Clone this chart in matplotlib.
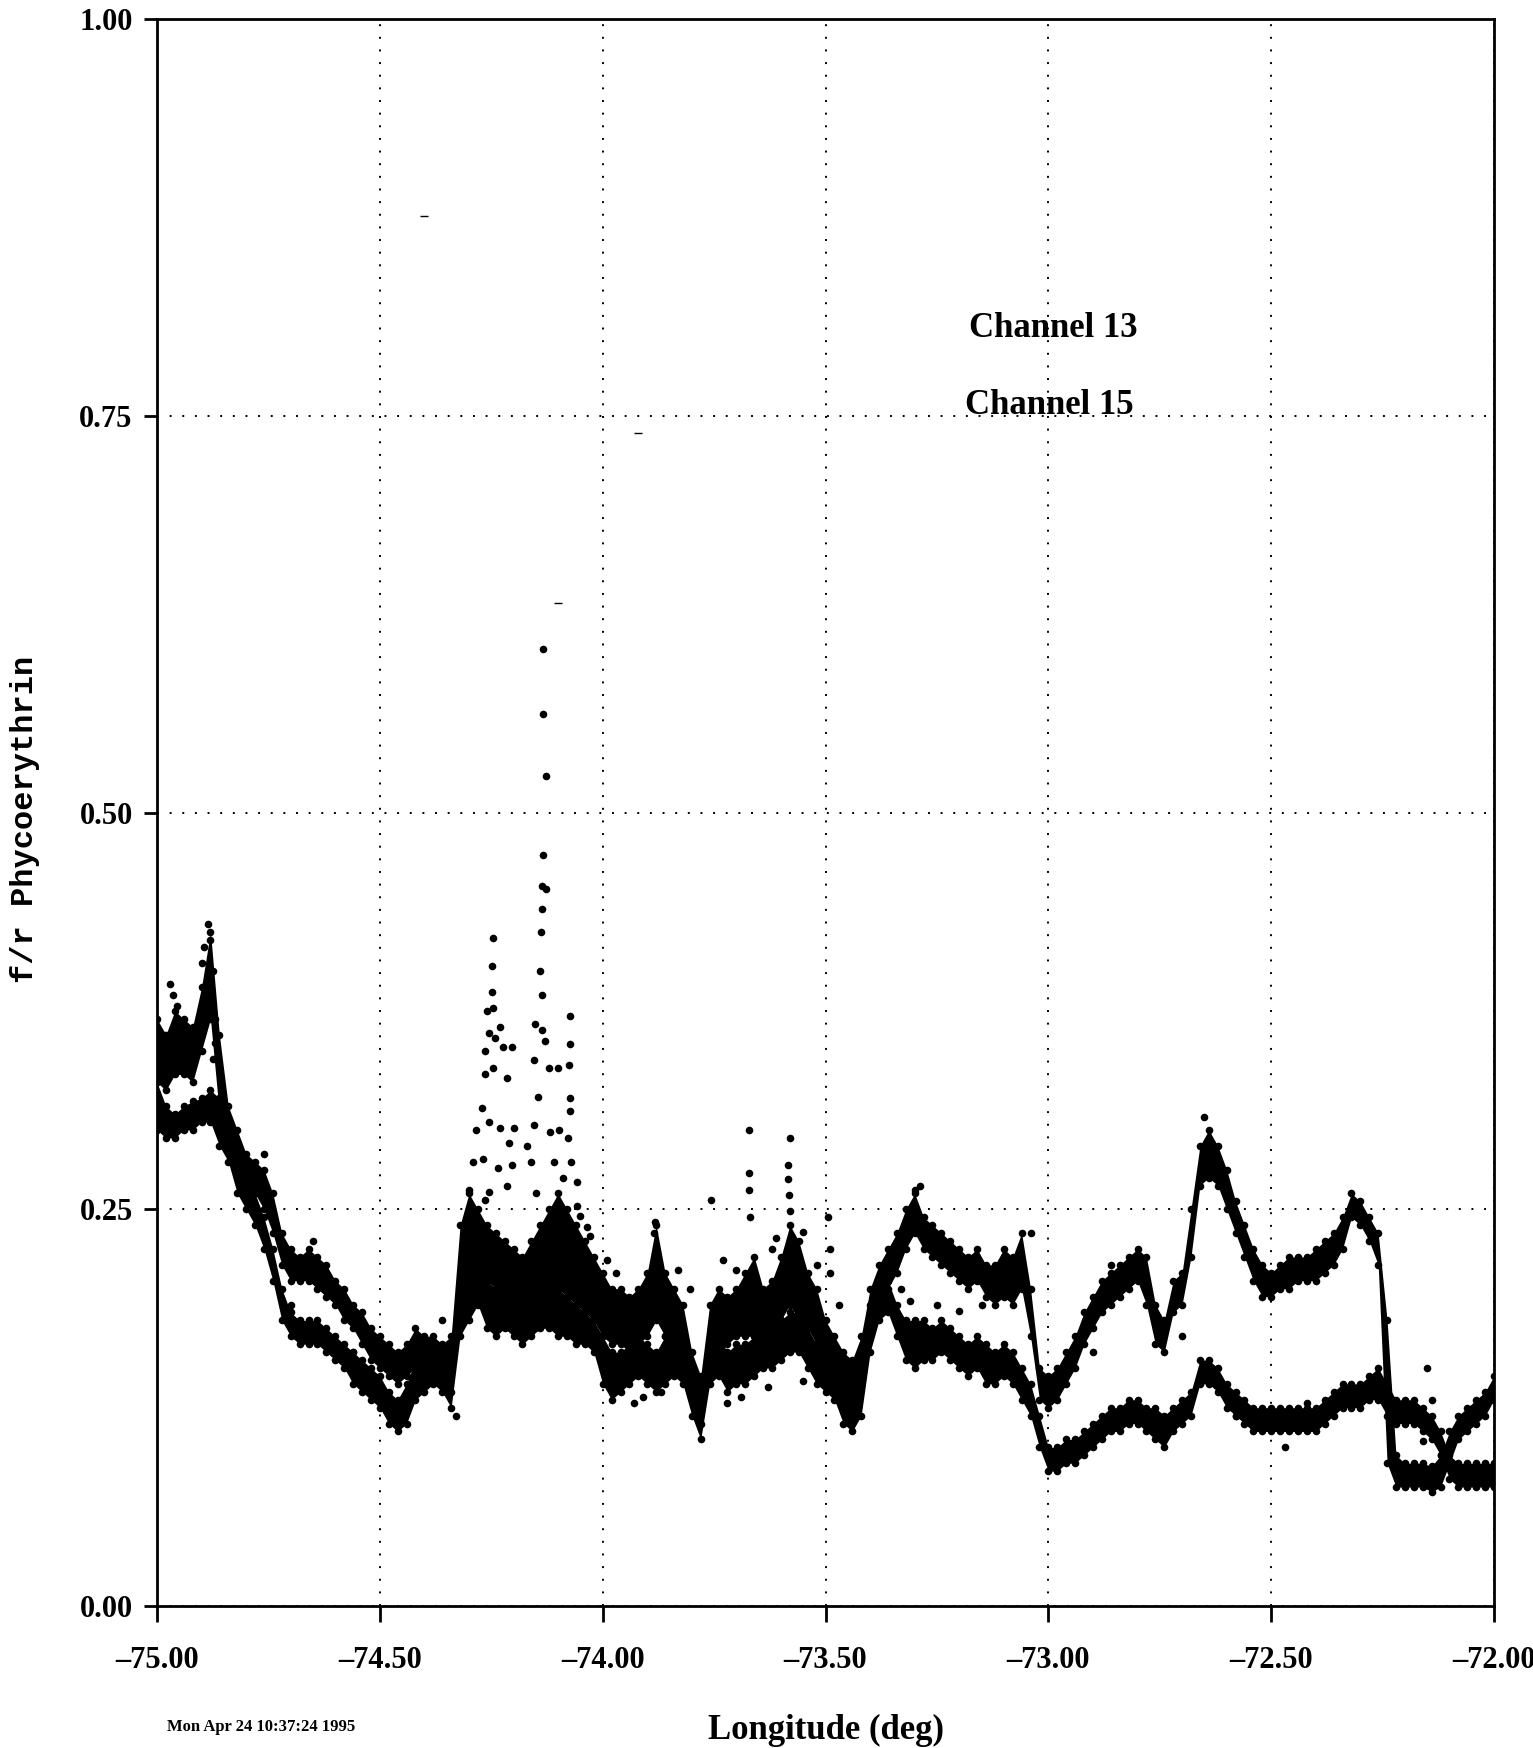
import matplotlib
matplotlib.use("Agg")
import matplotlib.pyplot as plt
import numpy as np
from matplotlib.ticker import FuncFormatter

# sample longitudes, every 0.02 deg along the track
lon = np.linspace(-75.0, -72.0, 151)

# channel 13 envelope (lower / upper edge of the point cloud)
ch13_lo = [
    0.330, 0.325, 0.335, 0.335, 0.330, 0.350, 0.370, 0.310, 0.290, 0.275,
    0.265, 0.260, 0.250, 0.235, 0.215, 0.205, 0.205, 0.205, 0.200, 0.195,
    0.190, 0.180, 0.175, 0.165, 0.155, 0.150, 0.145, 0.140, 0.145, 0.150,
    0.145, 0.150, 0.140, 0.135, 0.180, 0.210, 0.210, 0.205, 0.200, 0.195,
    0.190, 0.185, 0.190, 0.200, 0.200, 0.200, 0.195, 0.190, 0.185, 0.180,
    0.170, 0.165, 0.165, 0.160, 0.165, 0.170, 0.180, 0.170, 0.165, 0.155,
    0.130, 0.115, 0.150, 0.160, 0.165, 0.170, 0.170, 0.170, 0.165, 0.170,
    0.180, 0.190, 0.180, 0.175, 0.165, 0.150, 0.140, 0.130, 0.130, 0.140,
    0.170, 0.190, 0.200, 0.210, 0.225, 0.235, 0.225, 0.220, 0.215, 0.210,
    0.205, 0.200, 0.205, 0.195, 0.190, 0.195, 0.190, 0.200, 0.170, 0.130,
    0.125, 0.130, 0.140, 0.150, 0.165, 0.175, 0.185, 0.190, 0.195, 0.200,
    0.205, 0.190, 0.165, 0.160, 0.185, 0.190, 0.220, 0.265, 0.270, 0.265,
    0.250, 0.235, 0.220, 0.205, 0.195, 0.195, 0.200, 0.200, 0.205, 0.205,
    0.205, 0.210, 0.215, 0.225, 0.245, 0.240, 0.230, 0.215, 0.090, 0.075,
    0.075, 0.075, 0.075, 0.072, 0.075, 0.090, 0.105, 0.110, 0.115, 0.120,
    0.130,
]
ch13_hi = [
    0.370, 0.360, 0.375, 0.370, 0.365, 0.390, 0.425, 0.360, 0.315, 0.300,
    0.285, 0.280, 0.275, 0.260, 0.235, 0.225, 0.220, 0.225, 0.220, 0.215,
    0.205, 0.200, 0.190, 0.185, 0.175, 0.170, 0.165, 0.160, 0.165, 0.175,
    0.170, 0.170, 0.165, 0.170, 0.240, 0.260, 0.250, 0.240, 0.235, 0.230,
    0.225, 0.220, 0.230, 0.240, 0.250, 0.260, 0.250, 0.240, 0.230, 0.220,
    0.210, 0.200, 0.200, 0.195, 0.200, 0.210, 0.240, 0.210, 0.200, 0.190,
    0.160, 0.145, 0.190, 0.200, 0.195, 0.200, 0.210, 0.220, 0.200, 0.205,
    0.220, 0.240, 0.230, 0.210, 0.200, 0.180, 0.170, 0.160, 0.155, 0.170,
    0.200, 0.215, 0.225, 0.235, 0.250, 0.260, 0.245, 0.240, 0.235, 0.230,
    0.225, 0.220, 0.225, 0.215, 0.215, 0.225, 0.220, 0.235, 0.200, 0.150,
    0.145, 0.150, 0.160, 0.170, 0.185, 0.195, 0.205, 0.210, 0.215, 0.220,
    0.225, 0.220, 0.190, 0.180, 0.205, 0.210, 0.250, 0.290, 0.300, 0.290,
    0.275, 0.255, 0.240, 0.225, 0.215, 0.210, 0.215, 0.220, 0.220, 0.220,
    0.225, 0.230, 0.235, 0.245, 0.260, 0.255, 0.245, 0.235, 0.180, 0.095,
    0.090, 0.090, 0.090, 0.088, 0.095, 0.110, 0.120, 0.125, 0.130, 0.135,
    0.145,
]

# channel 15 envelope
ch15_lo = [
    0.300, 0.295, 0.295, 0.300, 0.300, 0.305, 0.305, 0.290, 0.280, 0.260,
    0.250, 0.240, 0.225, 0.205, 0.180, 0.170, 0.165, 0.165, 0.165, 0.160,
    0.155, 0.150, 0.140, 0.135, 0.130, 0.125, 0.115, 0.110, 0.115, 0.130,
    0.135, 0.140, 0.135, 0.125, 0.170, 0.180, 0.190, 0.175, 0.170, 0.175,
    0.170, 0.165, 0.170, 0.175, 0.175, 0.170, 0.170, 0.165, 0.165, 0.160,
    0.140, 0.130, 0.135, 0.140, 0.145, 0.140, 0.135, 0.140, 0.145, 0.140,
    0.120, 0.105, 0.140, 0.145, 0.135, 0.140, 0.140, 0.145, 0.150, 0.150,
    0.155, 0.160, 0.160, 0.150, 0.140, 0.135, 0.130, 0.115, 0.110, 0.120,
    0.160, 0.180, 0.185, 0.170, 0.155, 0.150, 0.155, 0.155, 0.160, 0.155,
    0.150, 0.145, 0.150, 0.140, 0.140, 0.145, 0.140, 0.130, 0.120, 0.100,
    0.085, 0.085, 0.090, 0.090, 0.095, 0.100, 0.105, 0.110, 0.110, 0.115,
    0.115, 0.110, 0.105, 0.100, 0.110, 0.115, 0.120, 0.140, 0.140, 0.135,
    0.125, 0.120, 0.115, 0.110, 0.110, 0.110, 0.110, 0.110, 0.110, 0.110,
    0.110, 0.115, 0.120, 0.125, 0.125, 0.125, 0.130, 0.130, 0.120, 0.115,
    0.115, 0.115, 0.110, 0.105, 0.095, 0.080, 0.075, 0.075, 0.075, 0.075,
    0.075,
]
ch15_hi = [
    0.330, 0.315, 0.310, 0.315, 0.318, 0.320, 0.325, 0.320, 0.300, 0.280,
    0.270, 0.260, 0.245, 0.225, 0.200, 0.185, 0.180, 0.180, 0.180, 0.175,
    0.170, 0.165, 0.160, 0.155, 0.150, 0.145, 0.135, 0.130, 0.140, 0.155,
    0.160, 0.165, 0.155, 0.150, 0.200, 0.210, 0.220, 0.205, 0.200, 0.210,
    0.200, 0.190, 0.200, 0.210, 0.210, 0.200, 0.195, 0.190, 0.185, 0.180,
    0.170, 0.160, 0.160, 0.165, 0.170, 0.165, 0.160, 0.170, 0.175, 0.165,
    0.140, 0.125, 0.165, 0.170, 0.160, 0.165, 0.165, 0.170, 0.175, 0.180,
    0.180, 0.185, 0.185, 0.175, 0.165, 0.160, 0.155, 0.140, 0.135, 0.150,
    0.190, 0.200, 0.205, 0.190, 0.180, 0.180, 0.180, 0.175, 0.180, 0.175,
    0.170, 0.165, 0.170, 0.165, 0.160, 0.165, 0.160, 0.150, 0.140, 0.120,
    0.100, 0.100, 0.105, 0.105, 0.110, 0.115, 0.120, 0.125, 0.125, 0.130,
    0.130, 0.125, 0.125, 0.120, 0.125, 0.130, 0.135, 0.155, 0.155, 0.150,
    0.140, 0.135, 0.130, 0.125, 0.125, 0.125, 0.125, 0.125, 0.125, 0.125,
    0.125, 0.130, 0.135, 0.140, 0.140, 0.140, 0.145, 0.150, 0.140, 0.130,
    0.130, 0.130, 0.125, 0.120, 0.110, 0.095, 0.090, 0.090, 0.090, 0.090,
    0.090,
]

# isolated readings that sit off the main cloud (spikes, stragglers)
spike_lon = [
    -74.970, -74.965, -74.955, -74.985, -74.900, -74.895, -74.885, -74.880,
    -74.875, -74.880, -74.870, -74.870, -74.875, -74.930, -74.945,
    -74.247, -74.248, -74.248, -74.260, -74.245, -74.256, -74.241, -74.264,
    -74.230, -74.224, -74.204, -74.215, -74.245, -74.264, -74.271, -74.256,
    -74.268, -74.230, -74.211, -74.200, -74.234, -74.204, -74.215, -74.256,
    -74.264, -74.285, -74.290, -74.300,
    -74.133, -74.135, -74.127, -74.135, -74.136, -74.127, -74.136, -74.138,
    -74.140, -74.136, -74.151, -74.136, -74.129, -74.155, -74.144, -74.155,
    -74.120, -74.101, -74.118, -74.099, -74.160, -74.150, -74.170,
    -74.074, -74.074, -74.075, -74.074, -74.073, -74.077, -74.070, -74.058,
    -74.058, -74.050, -74.035, -74.028, -74.110, -74.090,
    -73.882, -73.885, -73.758, -73.672, -73.672, -73.672, -73.670, -73.580,
    -73.585, -73.585, -73.583, -73.580, -73.495, -73.490, -73.490, -73.287,
    -73.300, -72.651, -72.150, -72.140,
    -73.990, -73.970, -73.830, -73.805, -73.730, -73.700, -73.620, -73.610,
    -73.550, -73.520, -73.470, -73.930, -73.910, -73.870, -73.720, -73.690,
    -73.630, -73.550, -73.330, -73.310, -73.250, -73.200, -73.150, -73.040,
    -72.900, -72.860, -72.700, -72.580, -72.470, -72.420, -72.160, -72.130,
    -74.700, -74.650, -74.560, -74.760, -74.330, -74.360,
]
spike_val = [
    0.392, 0.385, 0.378, 0.360, 0.405, 0.415, 0.430, 0.420,
    0.400, 0.385, 0.370, 0.355, 0.345, 0.345, 0.340,
    0.421, 0.403, 0.387, 0.375, 0.377, 0.361, 0.358, 0.350,
    0.365, 0.352, 0.352, 0.333, 0.339, 0.335, 0.314, 0.305,
    0.282, 0.301, 0.292, 0.301, 0.276, 0.278, 0.265, 0.261,
    0.256, 0.300, 0.280, 0.262,
    0.603, 0.562, 0.523, 0.473, 0.454, 0.452, 0.439, 0.425,
    0.400, 0.385, 0.367, 0.363, 0.356, 0.344, 0.321, 0.303,
    0.339, 0.339, 0.299, 0.300, 0.280, 0.260, 0.290,
    0.372, 0.354, 0.341, 0.320, 0.312, 0.295, 0.280, 0.267,
    0.252, 0.246, 0.239, 0.233, 0.280, 0.270,
    0.242, 0.235, 0.256, 0.300, 0.273, 0.262, 0.245, 0.295,
    0.278, 0.269, 0.259, 0.249, 0.245, 0.225, 0.210, 0.265,
    0.262, 0.308, 0.150, 0.130,
    0.218, 0.210, 0.212, 0.200, 0.218, 0.212, 0.225, 0.232,
    0.236, 0.215, 0.190, 0.128, 0.132, 0.135, 0.128, 0.132,
    0.138, 0.142, 0.200, 0.192, 0.190, 0.186, 0.190, 0.235,
    0.160, 0.215, 0.170, 0.120, 0.100, 0.128, 0.104, 0.110,
    0.190, 0.230, 0.160, 0.285, 0.120, 0.180,
]

# faint stray specks
speck_lon = [-74.40, -73.92, -74.10]
speck_val = [0.876, 0.739, 0.632]

x_ticks = [-75.0, -74.5, -74.0, -73.5, -73.0, -72.5, -72.0]
y_ticks = [0.0, 0.25, 0.50, 0.75, 1.00]

serif = "Liberation Serif"


def two_dec(v, pos):
    # long dash for negatives, like the old plotter output
    return f"{v:.2f}".replace("-", "\u2013")


fig = plt.figure(figsize=(15.33, 17.48), dpi=100)
ax = fig.add_axes([0.1024, 0.0812, 0.8722, 0.9079])

for lo, hi in [(ch13_lo, ch13_hi), (ch15_lo, ch15_hi)]:
    ax.fill_between(lon, lo, hi, color="black", linewidth=0, zorder=3)
    ax.scatter(lon, lo, s=30, c="black", linewidths=0, zorder=3)
    ax.scatter(lon, hi, s=30, c="black", linewidths=0, zorder=3)

ax.scatter(spike_lon, spike_val, s=30, c="black", linewidths=0, zorder=3)
ax.scatter(speck_lon, speck_val, s=30, c="black", marker="_", linewidths=1, zorder=3)

ax.set_xlim(-75.0, -72.0)
ax.set_ylim(0.0, 1.0)
ax.set_xticks(x_ticks)
ax.set_yticks(y_ticks)
ax.xaxis.set_major_formatter(FuncFormatter(two_dec))
ax.yaxis.set_major_formatter(FuncFormatter(two_dec))

ax.grid(True, color="black", linestyle=(0, (1, 5.5)), linewidth=1.4)
for s in ax.spines.values():
    s.set_linewidth(2.0)

ax.tick_params(axis="x", direction="out", length=11.5, width=2, pad=17)
ax.tick_params(axis="y", direction="out", length=9.5, width=2, pad=8)
for lab in ax.get_xticklabels() + ax.get_yticklabels():
    lab.set_fontfamily(serif)
    lab.set_fontweight("bold")
    lab.set_fontsize(22)

ax.text(-73.179, 0.7997, "Channel 13", fontsize=25, fontweight="bold",
        family=serif, va="baseline", ha="left")
ax.text(-73.186, 0.751, "Channel 15", fontsize=25, fontweight="bold",
        family=serif, va="baseline", ha="left")

fig.text(0.016, 0.5315, "f/r Phycoerythrin", rotation=90, fontsize=23,
         family="Liberation Mono", fontweight="bold", ha="center", va="center")
fig.text(0.5388, 0.0103, "Longitude (deg)", fontsize=25, family=serif,
         fontweight="bold", ha="center", va="center")
fig.text(0.109, 0.012, "Mon Apr 24 10:37:24 1995", fontsize=12,
         family=serif, fontweight="bold", ha="left", va="center")

fig.savefig("out.png", dpi=100)
